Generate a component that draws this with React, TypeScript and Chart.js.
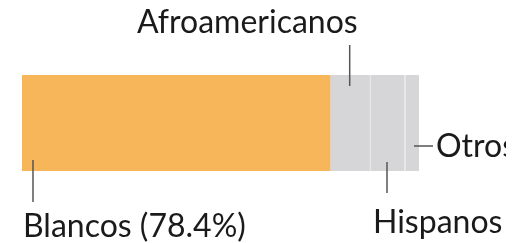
import React, { useEffect, useRef } from "react";
import { Chart, registerables } from "chart.js";

Chart.register(...registerables);

const categories = ["Blancos", "Afroamericanos", "Hispanos", "Otros"];
const values = [78.4, 10.1, 8.9, 3.7];
const labelTexts = ["Blancos (78.4%)", "Afroamericanos", "Hispanos", "Otros"];
const colors = ["#F8B65B", "#D6D6D8", "#D6D6D8", "#D6D6D8"];

const FONT = "32px Lato, 'Noto Sans', sans-serif";

const annotate = {
  id: "annotate",
  afterDraw(chart: any) {
    const ctx = chart.ctx;
    const els = categories.map((_, i) => chart.getDatasetMeta(i).data[0]);
    const geo = els.map((el: any) => {
      const p = el.getProps(["x", "y", "base", "height"], true);
      return { left: Math.min(p.base, p.x), right: Math.max(p.base, p.x), top: p.y - p.height / 2, bottom: p.y + p.height / 2 };
    });
    ctx.save();
    ctx.strokeStyle = "#555";
    ctx.lineWidth = 1.5;
    ctx.fillStyle = "#1a1a1a";
    ctx.font = FONT;
    ctx.textBaseline = "alphabetic";
    const line = (x1: number, y1: number, x2: number, y2: number) => {
      ctx.beginPath();
      ctx.moveTo(x1, y1);
      ctx.lineTo(x2, y2);
      ctx.stroke();
    };
    // Blancos
    const b = geo[0];
    line(b.left + 11, b.bottom - 11, b.left + 11, b.bottom + 31);
    ctx.textAlign = "left";
    ctx.fillText(labelTexts[0], b.left + 1, b.bottom + 66);
    // Afroamericanos
    const a = geo[1];
    const ax = (a.left + a.right) / 2;
    line(ax, a.top - 30, ax, a.top + 11);
    ctx.textAlign = "right";
    ctx.fillText(labelTexts[1], ax + 8, a.top - 42);
    // Hispanos
    const h = geo[2];
    const hx = (h.left + h.right) / 2;
    line(hx, h.bottom - 9, hx, h.bottom + 22);
    ctx.textAlign = "left";
    ctx.fillText(labelTexts[2], hx - 14, h.bottom + 62);
    // Otros
    const o = geo[3];
    const oy = o.top + 71;
    line(o.right - 5, oy, o.right + 14, oy);
    ctx.textAlign = "left";
    ctx.fillText(labelTexts[3], o.right + 17, oy + 11);
    ctx.restore();
  },
};

export default function App() {
  const ref = useRef<HTMLCanvasElement>(null);
  useEffect(() => {
    const chart = new Chart(ref.current!, {
      type: "bar",
      data: {
        labels: [""],
        datasets: categories.map((c, i) => ({
          label: c,
          data: [values[i]],
          backgroundColor: colors[i],
          borderColor: "#EFEFF0",
          borderWidth: i >= 2 ? { left: 1.5, right: 0, top: 0, bottom: 0 } : 0,
          borderSkipped: false,
          barPercentage: 1,
          categoryPercentage: 1,
        })),
      },
      options: {
        indexAxis: "y",
        responsive: false,
        animation: false,
        maintainAspectRatio: false,
        layout: { padding: { left: 22, right: 87, top: 75, bottom: 72 } },
        plugins: { legend: { display: false }, tooltip: { enabled: false } },
        scales: {
          x: { stacked: true, display: false, min: 0, max: values.reduce((s, v) => s + v, 0) },
          y: { stacked: true, display: false },
        },
      },
      plugins: [annotate],
    });
    return () => chart.destroy();
  }, []);
  return (
    <div style={{ position: "fixed", left: 0, top: 0, width: 506, height: 243, background: "#fff" }}>
      <canvas ref={ref} width={506} height={243} style={{ width: 506, height: 243, display: "block" }} />
    </div>
  );
}
